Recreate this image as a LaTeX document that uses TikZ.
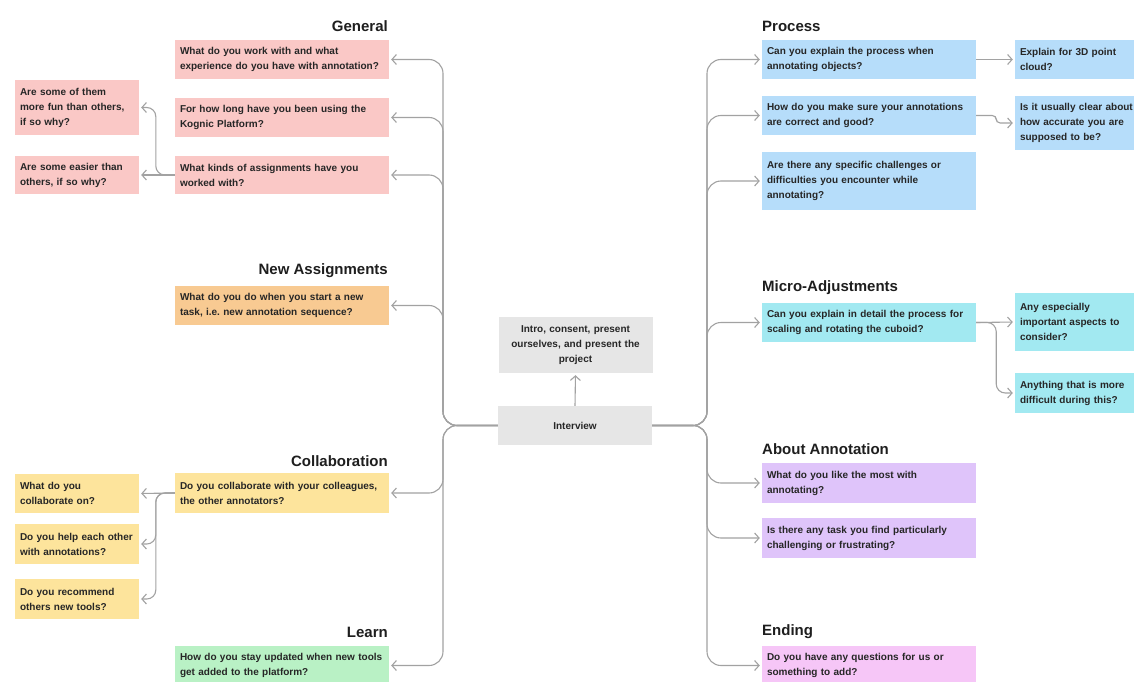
\documentclass[tikz,border=0pt]{standalone}
\usepackage{fontspec}
\setmainfont{Liberation Sans}
\usetikzlibrary{arrows.meta}
\definecolor{cpink}{HTML}{FAC8C6}
\definecolor{corange}{HTML}{F8CA92}
\definecolor{cyellow}{HTML}{FDE49C}
\definecolor{cgreen}{HTML}{B9F1C5}
\definecolor{cblue}{HTML}{B6DDFA}
\definecolor{ccyan}{HTML}{A2E9F1}
\definecolor{cpurple}{HTML}{DFC4FA}
\definecolor{cmagenta}{HTML}{F6C6F7}
\definecolor{cgray}{HTML}{E6E6E6}
\definecolor{ctext}{HTML}{262626}
\definecolor{ctitle}{HTML}{1E1E1E}
\definecolor{cline}{HTML}{A2A2A2}
\newcommand\qfont{\fontsize{10}{15}\selectfont\bfseries}
\newcommand\hfont{\fontsize{15}{18}\selectfont\bfseries}
\begin{document}
\begin{tikzpicture}[x=1pt,y=-1pt,
  qbox/.style={rectangle, inner xsep=5pt, inner ysep=0pt, align=left,
    font=\qfont, text=ctext},
  wide/.style={qbox, text width=204pt},
  small/.style={qbox, text width=114pt},
  side/.style={qbox, text width=117pt},
  mid/.style={qbox, align=center, text width=144pt, fill=cgray},
  head/.style={inner sep=0pt, font=\hfont, text=ctitle},
  conn/.style={draw=cline, line width=1.1pt,
    -{Straight Barb[length=4.5pt,width=10pt]}, shorten >=2pt,
    rounded corners=14pt},
  twig/.style={conn, rounded corners=9pt}]
\clip (0,0) rectangle (1134,682);
\fill[white] (0,0) rectangle (1134,682);

% centre
\node[mid, minimum height=56pt] (intro) at (575.5,345) {Intro, consent, present\\ourselves, and present the\\project};
\node[mid, minimum height=39pt] (int) at (575,425.5) {Interview};

% left column headings
\node[head, anchor=east] (hg) at (388,26) {General};
\node[head, anchor=east] (hn) at (388,271) {New Assignments};
\node[head, anchor=east] (hc) at (388,461) {Collaboration};
\node[head, anchor=east] (hl) at (388,632) {Learn};

% left column questions
\node[wide, fill=cpink, minimum height=39pt] (g1) at (282,59.5) {What do you work with and what\\experience do you have with annotation?};
\node[wide, fill=cpink, minimum height=39pt] (g2) at (282,117.5) {For how long have you been using the\\Kognic Platform?};
\node[wide, fill=cpink, minimum height=38pt] (g3) at (282,175) {What kinds of assignments have you\\worked with?};
\node[wide, fill=corange, minimum height=39pt] (n1) at (282,305.5) {What do you do when you start a new\\task, i.e.\ new annotation sequence?};
\node[wide, fill=cyellow, minimum height=40pt] (c1) at (282,493) {Do you collaborate with your colleagues,\\the other annotators?};
\node[wide, fill=cgreen, minimum height=39pt] (l1) at (282,665.5) {How do you stay updated when new tools\\get added to the platform?};

% left follow-ups
\node[small, fill=cpink, minimum height=55pt] (a1) at (77,107.5) {Are some of them\\more fun than others,\\if so why?};
\node[small, fill=cpink, minimum height=38pt] (a2) at (77,175) {Are some easier than\\others, if so why?};
\node[small, fill=cyellow, minimum height=39pt] (cl1) at (77,493.5) {What do you\\collaborate on?};
\node[small, fill=cyellow, minimum height=40pt] (cl2) at (77,544) {Do you help each other\\with annotations?};
\node[small, fill=cyellow, minimum height=40pt] (cl3) at (77,599) {Do you recommend\\others new tools?};

% right column headings
\node[head, anchor=west] (hp) at (762,26) {Process};
\node[head, anchor=west] (hm) at (762,288) {Micro-Adjustments};
\node[head, anchor=west] (ha) at (762,449) {About Annotation};
\node[head, anchor=west] (he) at (762,632) {Ending};

% right column questions
\node[wide, fill=cblue, minimum height=39pt] (p1) at (869,59.5) {Can you explain the process when\\annotating objects?};
\node[wide, fill=cblue, minimum height=39pt] (p2) at (869,115.5) {How do you make sure your annotations\\are correct and good?};
\node[wide, fill=cblue, minimum height=58pt] (p3) at (869,181) {Are there any specific challenges or\\difficulties you encounter while\\annotating?};
\node[wide, fill=ccyan, minimum height=39pt] (m1) at (869,322.5) {Can you explain in detail the process for\\scaling and rotating the cuboid?};
\node[wide, fill=cpurple, minimum height=40pt] (ab1) at (869,483) {What do you like the most with\\annotating?};
\node[wide, fill=cpurple, minimum height=40pt] (ab2) at (869,538) {Is there any task you find particularly\\challenging or frustrating?};
\node[wide, fill=cmagenta, minimum height=39pt] (en1) at (869,665.5) {Do you have any questions for us or\\something to add?};

% right follow-ups
\node[side, fill=cblue, minimum height=39pt] (e1) at (1078.5,59.5) {Explain for 3D point\\cloud?};
\node[side, fill=cblue, minimum height=54pt] (e2) at (1078.5,123) {Is it usually clear about\\how accurate you are\\supposed to be?};
\node[side, fill=ccyan, minimum height=58pt] (mm1) at (1078.5,322) {Any especially\\important aspects to\\consider?};
\node[side, fill=ccyan, minimum height=40pt] (mm2) at (1078.5,393) {Anything that is more\\difficult during this?};

% trunks
\coordinate (lb) at (443,425);
\coordinate (rb) at (707,425);
\draw[conn, rounded corners=0pt] (int.north) -- (intro.south);
\foreach \t in {g1,g2,g3,n1,c1,l1}
  \draw[conn] (int.west) -| (lb |- \t.east) -- (\t.east);
\foreach \t in {p1,p2,p3,m1,ab1,ab2,en1}
  \draw[conn] (int.east) -| (rb |- \t.west) -- (\t.west);

% branches
\draw[conn] (g3.west) -- (a2.east);
\draw[twig] (g3.west) -- ++(-19,0) |- (a1.east);
\draw[conn] (c1.west) -- (cl1.east);
\draw[twig] (c1.west) -- ++(-19,0) |- (cl2.east);
\draw[twig] (c1.west) -- ++(-19,0) |- (cl3.east);
\draw[conn] (p1.east) -- (e1.west);
\draw[twig, rounded corners=4pt] (p2.east) -- ++(20,0) |- (e2.west);
\draw[conn] (m1.east) -- (mm1.west);
\draw[twig] (m1.east) -- ++(20,0) |- (mm2.west);
\end{tikzpicture}
\end{document}
